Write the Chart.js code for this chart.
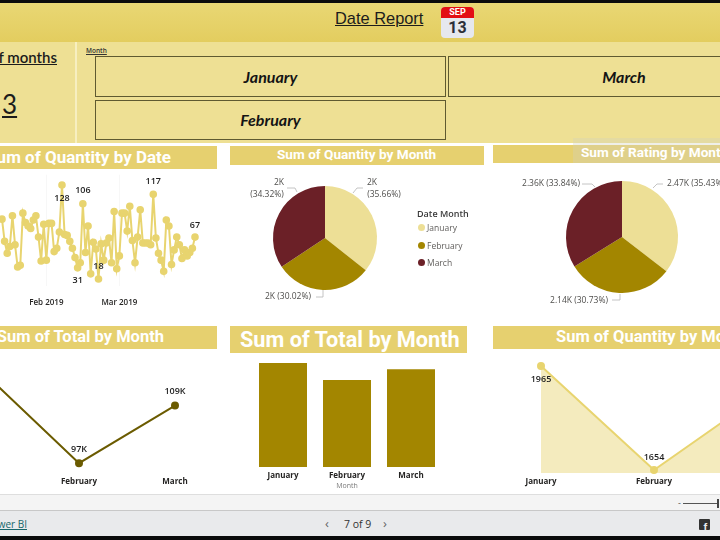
<!DOCTYPE html>
<html>
<head>
<meta charset="utf-8">
<script src="https://cdn.jsdelivr.net/npm/chart.js@4/dist/chart.umd.min.js"></script>
<style>
  html, body { margin: 0; padding: 0; background: #fff; }
  body { position: relative; width: 720px; height: 540px; overflow: hidden; font-family: "Open Sans", sans-serif; }
  .box, .txt, canvas { position: absolute; }
  .txt { white-space: nowrap; line-height: 1; }
  .title { color: #fff; font-family: Roboto, sans-serif; font-weight: 700; }
  .band { background: #e6d06f; }
  .slicer { box-sizing: border-box; border: 1.5px solid #5f5a30; background: #eee094; display: flex; align-items: center; justify-content: center;
    font: italic 700 16px Lato, sans-serif; color: #141414; }
  .legend-row { position: absolute; left: 417px; font-size: 8.5px; line-height: 10px; color: #605e5c; white-space: nowrap; }
  .legend-row i { display: inline-block; width: 7px; height: 7px; border-radius: 50%; margin: 0 2px 0 1px; }
</style>
</head>
<body>
<div class="box" style="left:0;top:0;width:720px;height:3px;background:#0b0b0b"></div>
<div class="box" style="left:0;top:3px;width:720px;height:39px;background:linear-gradient(#e9d774,#e3cd5f)"></div>
<div class="box" style="left:0;top:42px;width:720px;height:101px;background:#eee094"></div>
<div class="box" style="left:75px;top:42px;width:2px;height:101px;background:#f7efc0"></div>

<div class="txt" style="left:335px;top:9px;font:16.4px 'Liberation Sans';color:#1c1c1c;text-decoration:underline">Date Report</div>
<div class="box" style="left:441px;top:7px;width:33px;height:31px;border-radius:4px;background:#e6e8ee;overflow:hidden">
  <div style="height:11px;background:#e30f14;color:#fff;font:700 9px/11px Roboto;text-align:center">SEP</div>
  <div style="color:#2c2f38;font:700 16px/19px Roboto;text-align:center">13</div>
</div>

<div class="txt" style="right:663px;top:48px;font:600 15px Lato;color:#1c1c1c;text-decoration:underline">of months</div>
<div class="txt" style="left:2px;top:88px;font:26px Lato;color:#1c1c1c;text-decoration:underline">3</div>
<div class="txt" style="left:86px;top:46px;font:600 6.5px 'Open Sans';color:#333;text-decoration:underline">Month</div>
<div class="box slicer" style="left:95px;top:56px;width:351px;height:41px">January</div>
<div class="box slicer" style="left:448px;top:56px;width:352px;height:41px">March</div>
<div class="box slicer" style="left:95px;top:100px;width:351px;height:40px;padding-bottom:2px">February</div>

<div class="box band" style="left:0;top:146px;width:217px;height:23px"></div>
<div class="txt title" style="right:549px;top:149px;font-size:17px">Sum of Quantity by Date</div>
<div class="box band" style="left:230px;top:146px;width:254px;height:19px"></div>
<div class="txt title" style="left:277px;top:148px;font-size:13.6px">Sum of Quantity by Month</div>
<div class="box band" style="left:493px;top:145px;width:227px;height:18px"></div>
<div class="box" style="left:573px;top:138px;width:147px;height:25px;background:rgba(210,210,190,.35)"></div>
<div class="txt title" style="left:581px;top:146px;font-size:13.6px">Sum of Rating by Month</div>

<div class="box band" style="left:0;top:326px;width:217px;height:23px"></div>
<div class="txt title" style="right:556px;top:329px;font-size:16.5px">Sum of Total by Month</div>
<div class="box band" style="left:230px;top:326px;width:237px;height:27px"></div>
<div class="txt title" style="left:240px;top:329px;font-size:21.7px">Sum of Total by Month</div>
<div class="box band" style="left:493px;top:326px;width:227px;height:23px"></div>
<div class="txt title" style="left:556px;top:329px;font-size:16.5px">Sum of Quantity by Month</div>

<canvas id="dateChart" style="left:-10px;top:165px;width:220px;height:145px"></canvas>
<canvas id="pieQuantity" style="left:230px;top:168px;width:254px;height:150px"></canvas>
<canvas id="pieRating" style="left:493px;top:165px;width:258px;height:150px"></canvas>
<canvas id="lineTotal" style="left:-60px;top:345px;width:270px;height:147px"></canvas>
<canvas id="barTotal" style="left:230px;top:355px;width:240px;height:135px"></canvas>
<canvas id="areaQuantity" style="left:500px;top:355px;width:300px;height:140px"></canvas>

<div class="txt" style="left:417px;top:209px;font-size:9px;font-weight:600;color:#3a3a3a">Date Month</div>
<div id="pieLegend"></div>

<div class="box" style="left:0;top:494px;width:720px;height:17px;background:#f4f4f4;border-top:1px solid #dedede;border-bottom:1px solid #c8c8c8;box-sizing:border-box"></div>
<div class="box" style="left:0;top:511px;width:720px;height:25px;background:#e9eaec"></div>
<div class="box" style="left:0;top:536px;width:720px;height:4px;background:#0b0b0b"></div>
<div class="box" style="left:683px;top:503px;width:34px;height:1px;background:#555"></div>
<div class="box" style="left:717px;top:499px;width:2px;height:9px;background:#444"></div>
<div class="txt" style="left:678px;top:498px;font-size:9px;color:#555">-</div>
<div class="txt" style="right:693px;top:519px;font-size:10px;color:#17676b;text-decoration:underline">Power BI</div>
<div class="txt" style="left:325px;top:517px;font-size:13px;color:#666">‹</div>
<div class="txt" style="left:344px;top:519px;font-size:10.5px;color:#333">7 of 9</div>
<div class="txt" style="left:383px;top:517px;font-size:13px;color:#666">›</div>
<div class="box" style="left:699px;top:519px;width:11px;height:11px;background:#333;border-radius:1px;overflow:hidden">
  <div class="txt" style="left:4.5px;top:1.5px;font:700 11px 'Liberation Sans';color:#e9eaec">f</div>
</div>

<script>
// 값은 그림에서 읽음
const dateLabels = [
  "Jan 15","Jan 16","Jan 17","Jan 18","Jan 19","Jan 20","Jan 21","Jan 22","Jan 23","Jan 24","Jan 25","Jan 26","Jan 27","Jan 28","Jan 29","Jan 30","Jan 31",
  "Feb 1","Feb 2","Feb 3","Feb 4","Feb 5","Feb 6","Feb 7","Feb 8","Feb 9","Feb 10","Feb 11","Feb 12","Feb 13","Feb 14","Feb 15","Feb 16","Feb 17","Feb 18","Feb 19","Feb 20","Feb 21","Feb 22","Feb 23","Feb 24","Feb 25","Feb 26","Feb 27","Feb 28",
  "Mar 1","Mar 2","Mar 3","Mar 4","Mar 5","Mar 6","Mar 7","Mar 8","Mar 9","Mar 10","Mar 11","Mar 12","Mar 13","Mar 14","Mar 15","Mar 16","Mar 17","Mar 18","Mar 19","Mar 20","Mar 21","Mar 22","Mar 23","Mar 24","Mar 25","Mar 26","Mar 27","Mar 28","Mar 29","Mar 30"
];
const dateQuantity = [
  88,62,48,56,92,58,32,34,95,84,80,77,87,92,67,39,82,
  40,83,83,50,54,73,128,70,69,62,54,43,31,37,106,49,80,24,61,53,18,59,40,60,66,37,97,
  30,45,95,95,74,103,63,37,67,99,60,60,60,58,117,66,48,40,27,87,80,35,52,67,58,42,52,45,49,54,67
];
const dateTicks = { "Feb 1": "Feb 2019", "Mar 1": "Mar 2019" };

const months = ["January", "February", "March"];
const quantityByMonth = [1965, 1654, 1891];
const ratingByMonth = [2470, 2142, 2359];
const totalByMonth = [116, 97, 109];
const quantityPieLabels = [["2K", "(35.66%)"], ["2K (30.02%)"], ["2K", "(34.32%)"]];
const ratingPieLabels = [["2.47K (35.43%)"], ["2.14K (30.73%)"], ["2.36K (33.84%)"]];

const GOLD = "#e8d46f";
const PIE_COLORS = ["#eddf96", "#a38600", "#6b2027"];
const OLIVE = "#6b5b00";
const TEXT_DARK = "#252423";
const TICK_FONT = { family: "Open Sans", size: 8, weight: "700" };

Chart.defaults.animation = false;
Chart.defaults.responsive = false;
Chart.defaults.font.family = "Open Sans";
Chart.defaults.plugins.tooltip.enabled = false;

// 포인트 위 값 라벨
const pointLabelPlugin = {
  id: "pointLabels",
  afterDatasetsDraw(chart, args, opts) {
    if (!opts.items) return;
    const ctx = chart.ctx;
    const meta = chart.getDatasetMeta(0);
    const data = chart.data.datasets[0].data;
    ctx.save();
    ctx.font = "600 9px 'Open Sans'";
    ctx.fillStyle = "#1f1f1f";
    ctx.textAlign = "center";
    ctx.textBaseline = "middle";
    opts.items.forEach((item) => {
      const pt = meta.data[item.index];
      ctx.fillText(opts.format(data[item.index]), pt.x, pt.y + item.dy);
    });
    ctx.restore();
  }
};

// 파이 라벨 + 연결선
const calloutPlugin = {
  id: "callouts",
  afterDatasetsDraw(chart, args, opts) {
    if (!opts.items) return;
    const ctx = chart.ctx;
    const arc = chart.getDatasetMeta(0).data[0];
    ctx.save();
    ctx.font = "8.5px 'Open Sans'";
    ctx.textBaseline = "middle";
    ctx.textAlign = "center";
    opts.items.forEach((item, i) => {
      ctx.strokeStyle = "#b5b5b5";
      ctx.lineWidth = 0.8;
      ctx.beginPath();
      item.line.forEach((p, n) => {
        if (n === 0) ctx.moveTo(arc.x + p[0], arc.y + p[1]);
        else ctx.lineTo(arc.x + p[0], arc.y + p[1]);
      });
      ctx.stroke();
      ctx.fillStyle = "#4f4e4c";
      opts.texts[i].forEach((text, n) => {
        ctx.fillText(text, arc.x + item.at[n][0], arc.y + item.at[n][1]);
      });
    });
    ctx.restore();
  }
};

Chart.register(pointLabelPlugin, calloutPlugin);

function xAxis(height, padding, extra) {
  return Object.assign({
    afterFit: (scale) => { scale.height = height; },
    border: { display: false },
    grid: { display: false, drawTicks: false },
    ticks: { color: TEXT_DARK, font: TICK_FONT, padding, maxRotation: 0, autoSkip: false }
  }, extra);
}

function hiddenY(min, max) {
  return { display: false, min, max };
}

// 파이 범례
months.forEach((name, i) => {
  const row = document.createElement("div");
  row.className = "legend-row";
  row.style.top = [223, 241, 258][i] + "px";
  row.innerHTML = `<i style="background:${PIE_COLORS[i]}"></i>${name}`;
  document.getElementById("pieLegend").appendChild(row);
});

// 날짜별 수량
new Chart(document.getElementById("dateChart"), {
  type: "line",
  data: {
    labels: dateLabels,
    datasets: [{
      data: dateQuantity,
      borderColor: GOLD,
      backgroundColor: GOLD,
      borderWidth: 2,
      pointRadius: 2.8,
      tension: 0,
      clip: false
    }]
  },
  options: {
    layout: { padding: { left: 10, right: 15, top: 9.7, bottom: 0 } },
    plugins: {
      legend: { display: false },
      pointLabels: {
        format: (v) => String(v),
        items: [
          { index: 23, dy: 13 }, { index: 29, dy: 13 }, { index: 31, dy: -13 },
          { index: 37, dy: -13 }, { index: 58, dy: -13 }, { index: 74, dy: -12 }
        ]
      }
    },
    scales: {
      x: xAxis(24.2, 12, {
        grid: {
          display: true,
          drawTicks: false,
          color: (c) => (c.tick && dateTicks[dateLabels[c.index]] ? "#f7f7f7" : "rgba(0,0,0,0)")
        },
        ticks: {
          color: TEXT_DARK,
          font: { family: "Open Sans", size: 8, weight: "600" },
          padding: 12,
          maxRotation: 0,
          autoSkip: false,
          callback: (value, index) => dateTicks[dateLabels[index]] || ""
        }
      }),
      y: hiddenY(10, 140)
    }
  }
});

// 월별 수량 파이
new Chart(document.getElementById("pieQuantity"), {
  type: "pie",
  data: {
    labels: months,
    datasets: [{ data: quantityByMonth, backgroundColor: PIE_COLORS, borderWidth: 0 }]
  },
  options: {
    radius: 52,
    layout: { padding: { bottom: 10, right: 64 } },
    plugins: {
      legend: { display: false },
      callouts: {
        texts: quantityPieLabels,
        items: [
          { line: [[28, -45], [32, -50], [38, -50]], at: [[47, -55], [59, -43]] },
          { line: [[-2, 52], [-2, 59], [-9, 59]], at: [[-37, 59]] },
          { line: [[-28, -46], [-30, -50], [-38, -50]], at: [[-46, -55], [-58, -43]] }
        ]
      }
    }
  }
});

// 월별 평점 파이
new Chart(document.getElementById("pieRating"), {
  type: "pie",
  data: {
    labels: months,
    datasets: [{ data: ratingByMonth, backgroundColor: PIE_COLORS, borderWidth: 0 }]
  },
  options: {
    radius: 56,
    layout: { padding: { bottom: 6 } },
    plugins: {
      legend: { display: false },
      callouts: {
        texts: ratingPieLabels,
        items: [
          { line: [[31, -49], [35, -53], [41, -53]], at: [[74, -53]] },
          { line: [[-2, 57], [-2, 63], [-10, 63]], at: [[-43, 64]] },
          { line: [[-27, -50], [-30, -53], [-40, -53]], at: [[-71, -53]] }
        ]
      }
    }
  }
});

// 월별 합계 라인
new Chart(document.getElementById("lineTotal"), {
  type: "line",
  data: {
    labels: months,
    datasets: [{
      data: totalByMonth,
      borderColor: OLIVE,
      backgroundColor: OLIVE,
      borderWidth: 2,
      pointRadius: 3,
      tension: 0,
      clip: false
    }]
  },
  options: {
    layout: { padding: { left: 43, right: 35, top: 7.8, bottom: 0 } },
    plugins: {
      legend: { display: false },
      pointLabels: {
        format: (v) => v + "K",
        items: [{ index: 1, dy: -14 }, { index: 2, dy: -14 }]
      }
    },
    scales: { x: xAxis(24, 9, {}), y: hiddenY(96, 120) }
  }
});

// 월별 합계 막대
new Chart(document.getElementById("barTotal"), {
  type: "bar",
  data: {
    labels: months,
    datasets: [{ data: totalByMonth, backgroundColor: "#a38600", barPercentage: 0.75, categoryPercentage: 1 }]
  },
  options: {
    layout: { padding: { left: 21, right: 27, top: 8, bottom: 0 } },
    plugins: { legend: { display: false } },
    scales: {
      x: xAxis(23, 4, {
        title: { display: true, text: "Month", color: "#7a7a7a", font: { size: 7 }, padding: 0 }
      }),
      y: hiddenY(0, 116)
    }
  }
});

// 월별 수량 영역
new Chart(document.getElementById("areaQuantity"), {
  type: "line",
  data: {
    labels: months,
    datasets: [{
      data: quantityByMonth,
      borderColor: GOLD,
      backgroundColor: "#f4ebbe",
      pointBackgroundColor: GOLD,
      borderWidth: 2,
      pointRadius: 3,
      fill: "origin",
      tension: 0,
      clip: false
    }]
  },
  options: {
    layout: { padding: { left: 41, right: 33, top: 11, bottom: 0 } },
    plugins: {
      legend: { display: false },
      pointLabels: {
        format: (v) => String(v),
        items: [{ index: 0, dy: 13 }, { index: 1, dy: -13 }]
      }
    },
    scales: { x: xAxis(22, 4, {}), y: hiddenY(1645, 1965) }
  }
});
</script>
</body>
</html>
